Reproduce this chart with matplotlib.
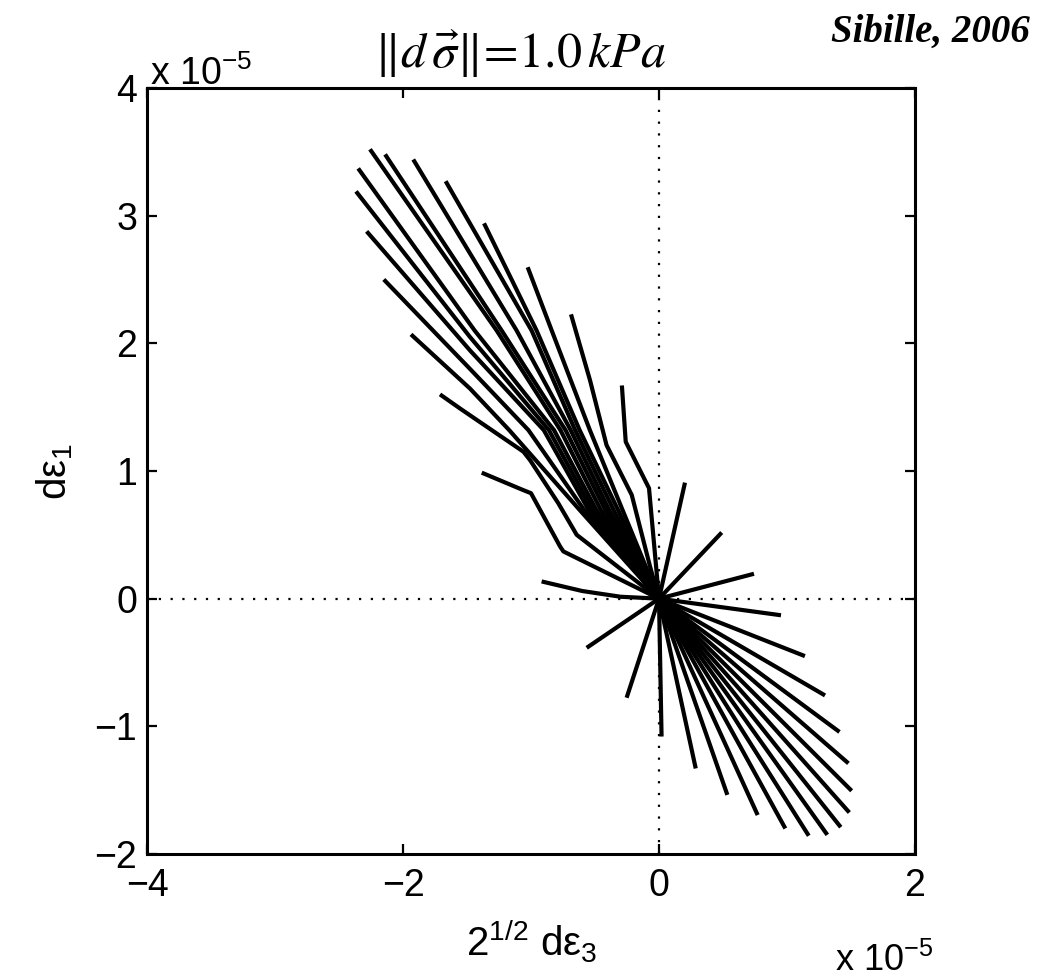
import matplotlib
matplotlib.use("Agg")
import matplotlib.pyplot as plt

plt.rcParams["font.family"] = ["Liberation Sans", "DejaVu Sans"]
plt.rcParams["mathtext.fontset"] = "custom"
plt.rcParams["mathtext.rm"] = "Liberation Sans"
plt.rcParams["mathtext.it"] = "Liberation Sans:italic"
plt.rcParams["mathtext.default"] = "it"

# Strain responses (units of 1e-5). Straight responses: end points of rays from the origin.
ray_end_x = [0.203, 0.49, 0.742, 0.953, 1.14, 1.297, 1.41, 1.48, 1.505, 1.487,
             1.42, 1.315, 1.17, 0.987, 0.771, 0.534, 0.287, 0.02, -0.253, -0.565]
ray_end_y = [0.909, 0.518, 0.195, -0.13, -0.45, -0.758, -1.044, -1.29, -1.505, -1.675,
             -1.79, -1.85, -1.857, -1.8, -1.695, -1.537, -1.33, -1.08, -0.776, -0.385]

# Curved responses (polylines ending at the origin).
curve_x = [
    [-0.917, -0.6, -0.3, 0.0],
    [-1.385, -1.067, -1.0, -0.773, -0.747, 0.0],
    [-1.711, -1.555, -1.059, -1.008, -0.787, -0.643, 0.0],
    [-1.9375, -1.477, -1.17, -0.62, 0.0],
    [-2.15, -1.477, -1.02, -0.585, 0.0],
    [-2.284, -1.477, -0.90, -0.55, 0.0],
    [-2.367, -1.477, -0.86, -0.52, 0.0],
    [-2.35, -1.44, -0.82, -0.49, 0.0],
    [-2.258, -1.268, -0.77, -0.455, 0.0],
    [-2.14, -1.229, -0.73, -0.42, 0.0],
    [-1.92, -1.112, -0.69, -0.39, 0.0],
    [-1.667, -0.995, -0.655, -0.355, 0.0],
    [-1.367, -0.956, -0.62, -0.32, 0.0],
    [-1.026, -0.838, -0.54, -0.285, 0.0],
    [-0.6875, -0.539, -0.41, -0.213, -0.07, 0.0],
    [-0.29, -0.26, -0.078, 0.0],
]
curve_y = [
    [0.135, 0.06, 0.015, 0.0],
    [0.987, 0.853, 0.826, 0.409, 0.37, 0.0],
    [1.6, 1.49, 1.151, 1.086, 0.748, 0.5, 0.0],
    [2.07, 1.646, 1.32, 0.695, 0.0],
    [2.5, 1.80, 1.32, 0.695, 0.0],
    [2.877, 1.945, 1.32, 0.695, 0.0],
    [3.19, 2.05, 1.32, 0.695, 0.0],
    [3.37, 2.1, 1.32, 0.695, 0.0],
    [3.52, 2.1, 1.32, 0.695, 0.0],
    [3.48, 2.1, 1.32, 0.695, 0.0],
    [3.44, 2.1, 1.32, 0.695, 0.0],
    [3.27, 2.1, 1.32, 0.695, 0.0],
    [2.94, 2.1, 1.32, 0.695, 0.0],
    [2.596, 2.1, 1.32, 0.695, 0.0],
    [2.227, 1.711, 1.203, 0.8125, 0.252, 0.0],
    [1.67, 1.229, 0.865, 0.0],
]

x_ticks = [-4, -2, 0, 2]
y_ticks = [-2, -1, 0, 1, 2, 3, 4]

W, H = 1037, 980
fig = plt.figure(figsize=(W / 100, H / 100), dpi=100)
ax = fig.add_axes([147 / W, 1 - 854 / H, 768 / W, 766 / H])

dots = (0, (1, 4.3))
ax.axhline(0, color="black", lw=1.6, ls=dots, zorder=1)
ax.axvline(0, color="black", lw=1.6, ls=dots, zorder=1)

lw = 3.0
for ex, ey in zip(ray_end_x, ray_end_y):
    ax.plot([0, ex], [0, ey], color="black", lw=lw, solid_capstyle="butt", zorder=2)
for cx, cy in zip(curve_x, curve_y):
    ax.plot(cx, cy, color="black", lw=lw, solid_joinstyle="round",
            solid_capstyle="butt", zorder=2)

ax.set_xlim(-4, 2)
ax.set_ylim(-2, 4)
ax.set_xticks(x_ticks)
ax.set_yticks(y_ticks)
ax.set_xticklabels([f"{t:d}".replace("-", "\u2212") for t in x_ticks])
ax.set_yticklabels([f"{t:d}".replace("-", "\u2212") for t in y_ticks])
ax.tick_params(direction="in", length=7, width=1.6, labelsize=27,
               top=True, right=True, pad=10)
ax.tick_params(axis="y", pad=7)
for s in ax.spines.values():
    s.set_linewidth(2.2)

fs = 29
fig.text(532 / W, 1 - 955 / H, "2$^{\\mathregular{1/2}}$ d\u03b5$_{\\mathregular{3}}$",
         fontsize=fs, ha="center", va="baseline")
fig.text(75 / W, 1 - 472 / H, "d\u03b5$_{\\mathregular{1}}$", fontsize=fs,
         rotation=90, ha="right", va="center")
fig.text(150 / W, 1 - 85 / H, r"x 10$^{\mathregular{-5}}$", fontsize=27,
         ha="left", va="baseline")
fig.text(835 / W, 1 - 971 / H, r"x 10$^{\mathregular{-5}}$", fontsize=26,
         ha="left", va="baseline")

fig.text(520 / W, 1 - 68 / H, r"$\Vert d\,\vec{\sigma}\Vert\!=\!1.0\,kPa$",
         fontsize=36, ha="center", va="baseline", math_fontfamily="stix")
fig.text(1030 / W, 1 - 42 / H, "Sibille, 2006", fontsize=28, ha="right",
         va="baseline", family=["Liberation Serif"], fontweight="bold", style="italic")

fig.savefig("out.png", dpi=100)
